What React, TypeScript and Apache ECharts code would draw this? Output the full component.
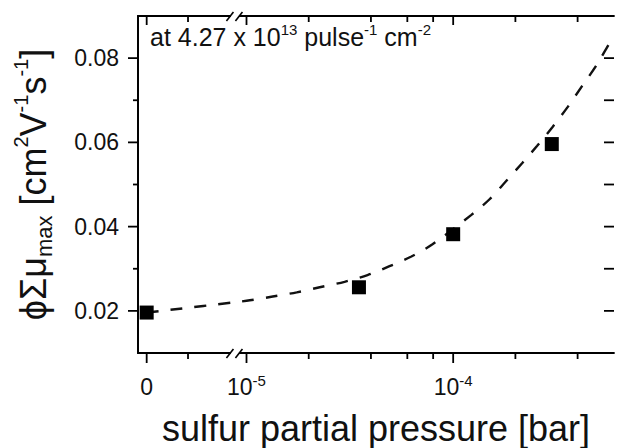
import React, { useEffect, useRef } from 'react';
import * as echarts from 'echarts';

// ---- data ----
const pointPressure = [0, 3.5e-5, 1.0e-4, 3.0e-4];
const pointMobility = [0.0196, 0.0256, 0.0382, 0.0596];

const fitPressure = [
  0, 1.0e-5, 1.34e-5, 1.75e-5, 2.26e-5, 2.98e-5, 3.85e-5, 4.92e-5, 6.28e-5, 7.94e-5,
  1.225e-4, 1.5e-4, 1.81e-4, 2.16e-4, 2.55e-4, 3.02e-4, 3.57e-4, 4.21e-4, 4.92e-4, 5.69e-4, 6.0e-4,
];
const fitMobility = [
  0.0196, 0.0224, 0.0234, 0.0244, 0.0256, 0.0269, 0.0285, 0.0306, 0.0329, 0.0358,
  0.0428, 0.0465, 0.0509, 0.0551, 0.0592, 0.0636, 0.0683, 0.0734, 0.0782, 0.0834, 0.085,
];

const xMajorPressures = [0, 1e-5, 1e-4];
const xMajorLabels = ['0', '10{sup|-5}', '10{sup|-4}'];
const xMinorPressures = [2e-5, 4e-5, 6e-5, 8e-5, 2e-4, 4e-4];
const xMaxPressure = 6e-4;

const yMajorTicks = [0.02, 0.04, 0.06, 0.08];
const yMinorTicks = [0.03, 0.05, 0.07];
const yMin = 0.01;
const yMax = 0.09;

// ---- broken axis transform (linear segment holding 0, then log decades) ----
const U_ZERO = 0.042;
const U_LOG_START = 0.525; // position of 1e-5
const U_LIN_MINOR = 0.242;
const U_BREAK = 0.469;
const toU = (p: number) => (p <= 0 ? U_ZERO : U_LOG_START + Math.log10(p) + 5);
const X_MAX = toU(xMaxPressure);

const FONT = '"Liberation Sans", Arial, Helvetica, sans-serif';
const INK = '#111';
const W = 617;
const H = 448;
const GRID = { left: 138, right: 3, top: 16, bottom: 95 };

const annotation = {
  type: 'text',
  left: 150,
  top: 22,
  z: 50,
  style: {
    text: '{m|at 4.27 x 10}{sup|13}{m| pulse}{sup|-1}{m| cm}{sup|-2}',
    rich: {
      m: { fontSize: 25, lineHeight: 30, fontFamily: FONT, fill: INK },
      sup: { fontSize: 15, lineHeight: 13, verticalAlign: 'top', fontFamily: FONT, fill: INK },
    },
  },
};

const App: React.FC = () => {
  const ref = useRef<HTMLDivElement>(null);
  useEffect(() => {
    document.body.style.margin = '0';
    if (!ref.current) return;
    const chart = echarts.init(ref.current, undefined, { renderer: 'svg' });
    const majorU = xMajorPressures.map(toU);
    const minorU = [U_LIN_MINOR, ...xMinorPressures.map(toU)];
    const axisLine = { show: true, lineStyle: { color: '#000', width: 1.8 } };
    const labelForU = (v: number) => {
      for (let i = 0; i < majorU.length; i++) {
        if (Math.abs(majorU[i] - v) < 1e-6) return xMajorLabels[i];
      }
      return '';
    };
    chart.setOption({
      animation: false,
      backgroundColor: '#fff',
      grid: { ...GRID, containLabel: false, outerBoundsMode: 'none' },
      xAxis: [
        {
          type: 'value',
          min: 0,
          max: X_MAX,
          position: 'bottom',
          splitLine: { show: false },
          axisLine,
          axisTick: { show: false },
          axisLabel: {
            show: true,
            customValues: majorU,
            formatter: (v: number) => labelForU(v),
            margin: 20,
            color: INK,
            fontFamily: FONT,
            fontSize: 23,
            lineHeight: 28,
            rich: {
              sup: { fontSize: 15, lineHeight: 14, verticalAlign: 'top', fontFamily: FONT, color: INK },
            },
          },
          name: 'sulfur partial pressure [bar]',
          nameLocation: 'middle',
          nameGap: 57,
          nameTextStyle: { fontSize: 36, fontFamily: FONT, color: INK, lineHeight: 36 },
        },
        {
          type: 'value',
          min: 0,
          max: X_MAX,
          position: 'top',
          splitLine: { show: false },
          axisLine,
          axisTick: { show: false },
          axisLabel: { show: false },
        },
      ],
      yAxis: [
        {
          type: 'value',
          min: yMin,
          max: yMax,
          position: 'left',
          splitLine: { show: false },
          axisLine,
          axisTick: { show: false },
          axisLabel: {
            show: true,
            customValues: yMajorTicks,
            formatter: (v: number) => v.toFixed(2),
            margin: 19,
            color: INK,
            fontFamily: FONT,
            fontSize: 23,
          },
          name: '{m|ϕΣμ}{sub|max}{m| [cm}{sup|2}{m|V}{sup|-1}{m|s}{sup|-1}{m|]}',
          nameLocation: 'middle',
          nameRotate: 90,
          nameGap: 83,
          nameTextStyle: {
            fontFamily: FONT,
            color: INK,
            rich: {
              m: { fontSize: 36, lineHeight: 44, fontFamily: FONT, color: INK },
              sub: { fontSize: 22, lineHeight: 28, verticalAlign: 'bottom', fontFamily: FONT, color: INK },
              sup: { fontSize: 20, lineHeight: 16, verticalAlign: 'top', fontFamily: FONT, color: INK },
            },
          },
        },
        {
          type: 'value',
          min: yMin,
          max: yMax,
          position: 'right',
          splitLine: { show: false },
          axisLine,
          axisTick: { show: false },
          axisLabel: { show: false },
        },
      ],
      graphic: [annotation],
      series: [
        {
          type: 'line',
          xAxisIndex: 0,
          yAxisIndex: 0,
          data: fitPressure.map((p, i) => [toU(p), fitMobility[i]]),
          showSymbol: false,
          smooth: 0.3,
          lineStyle: { color: INK, width: 2.4, type: [12, 12] },
          z: 2,
        },
        {
          type: 'scatter',
          xAxisIndex: 0,
          yAxisIndex: 0,
          data: pointPressure.map((p, i) => [toU(p), pointMobility[i]]),
          symbol: 'rect',
          symbolSize: 14,
          itemStyle: { color: '#000', opacity: 1 },
          z: 3,
        },
      ],
    });

    // ticks and axis-break marks, positioned through the axes' own scales
    const xPix = (u: number) => chart.convertToPixel({ xAxisIndex: 0 }, u) as number;
    const yPix = (v: number) => chart.convertToPixel({ yAxisIndex: 0 }, v) as number;
    const left = xPix(0);
    const right = xPix(X_MAX);
    const top = yPix(yMax);
    const bottom = yPix(yMin);
    const tickStyle = { stroke: '#000', lineWidth: 1.8 };
    const extra: any[] = [];
    majorU.forEach((u) => {
      const x = xPix(u);
      extra.push({ type: 'line', z: 40, shape: { x1: x, y1: bottom, x2: x, y2: bottom + 10 }, style: tickStyle });
      extra.push({ type: 'line', z: 40, shape: { x1: x, y1: top, x2: x, y2: top + 9 }, style: tickStyle });
    });
    minorU.forEach((u) => {
      const x = xPix(u);
      extra.push({ type: 'line', z: 40, shape: { x1: x, y1: bottom, x2: x, y2: bottom + 6 }, style: tickStyle });
      extra.push({ type: 'line', z: 40, shape: { x1: x, y1: top, x2: x, y2: top + 6 }, style: tickStyle });
    });
    yMajorTicks.forEach((v) => {
      const y = yPix(v);
      extra.push({ type: 'line', z: 40, shape: { x1: left, y1: y, x2: left - 10, y2: y }, style: tickStyle });
      extra.push({ type: 'line', z: 40, shape: { x1: right, y1: y, x2: right - 10, y2: y }, style: tickStyle });
    });
    yMinorTicks.forEach((v) => {
      const y = yPix(v);
      extra.push({ type: 'line', z: 40, shape: { x1: left, y1: y, x2: left - 5, y2: y }, style: tickStyle });
      extra.push({ type: 'line', z: 40, shape: { x1: right, y1: y, x2: right - 10, y2: y }, style: tickStyle });
    });
    const bx = xPix(U_BREAK);
    const breakMarks = (y: number) => [
      { type: 'rect', z: 60, shape: { x: bx - 4, y: y - 3, width: 8, height: 6 }, style: { fill: '#fff' } },
      { type: 'line', z: 61, shape: { x1: bx - 8.5, y1: y + 5, x2: bx - 1.5, y2: y - 4 }, style: { stroke: '#000', lineWidth: 1.6 } },
      { type: 'line', z: 61, shape: { x1: bx + 0.5, y1: y + 5, x2: bx + 7.5, y2: y - 4 }, style: { stroke: '#000', lineWidth: 1.6 } },
    ];
    chart.setOption(
      { graphic: [annotation, ...extra, ...breakMarks(bottom), ...breakMarks(top)] },
      { replaceMerge: ['graphic'] }
    );

    return () => chart.dispose();
  }, []);
  return <div ref={ref} style={{ width: W, height: H }} />;
};

export default App;
